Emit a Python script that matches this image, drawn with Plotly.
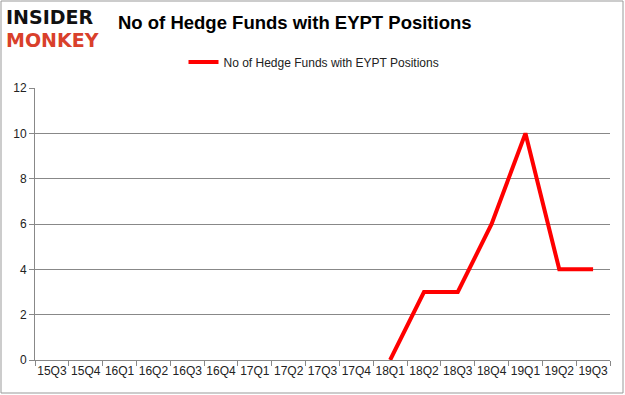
import plotly.graph_objects as go

quarters = ["15Q3", "15Q4", "16Q1", "16Q2", "16Q3", "16Q4", "17Q1", "17Q2", "17Q3",
            "17Q4", "18Q1", "18Q2", "18Q3", "18Q4", "19Q1", "19Q2", "19Q3"]
funds = [None, None, None, None, None, None, None, None, None,
         None, 0, 3, 3, 6, 10, 4, 4]
series_name = "No of Hedge Funds with EYPT Positions"
y_ticks = [0, 2, 4, 6, 8, 10, 12]

W, H = 625, 395
L, R, T, B = 35, 15, 88, 35
pw, ph = W - L - R, H - T - B

def px(x):
    return (x - L) / pw

def py(y):
    return (H - B - y) / ph

xs = list(range(len(quarters)))
fig = go.Figure()
fig.add_trace(go.Scatter(x=xs, y=funds, mode="lines", name=series_name,
                         line=dict(color="#ff0000", width=4), connectgaps=False))

font = "Liberation Sans"
fig.update_layout(
    width=W, height=H,
    margin=dict(l=L, r=R, t=T, b=B),
    paper_bgcolor="white", plot_bgcolor="white",
    showlegend=True,
    legend=dict(orientation="h", x=px(314), xanchor="center", y=py(62), yanchor="middle",
                font=dict(family=font, size=12, color="#222"), itemwidth=30,
                bgcolor="rgba(0,0,0,0)"),
    xaxis=dict(range=[-0.5, len(quarters) - 0.5], tickvals=xs, ticktext=quarters,
               showgrid=False, zeroline=False, showline=True, linecolor="#888", linewidth=1,
               ticks="", tickfont=dict(family=font, size=12, color="#222"),
               minor=dict(ticks="outside", tick0=-0.5, dtick=1, ticklen=5, tickcolor="#888",
                          showgrid=False)),
    yaxis=dict(range=[0, 12], tickvals=y_ticks, showgrid=True, gridcolor="#888", gridwidth=1,
               zeroline=False, showline=True, linecolor="#888", linewidth=1,
               ticks="outside", ticklen=5, tickcolor="#888",
               tickfont=dict(family=font, size=12, color="#222")),
)

fig.add_annotation(text="<b>No of Hedge Funds with EYPT Positions</b>", xref="paper", yref="paper",
                   x=px(116), y=py(22), xanchor="left", yanchor="middle", showarrow=False,
                   font=dict(family=font, size=18.5, color="#000"))
fig.add_annotation(text="<b>INSIDER</b>", xref="paper", yref="paper",
                   x=px(4), y=py(17), xanchor="left", yanchor="middle", showarrow=False,
                   font=dict(family="DejaVu Sans", size=19, color="#111"))
fig.add_annotation(text="<b>MONKEY</b>", xref="paper", yref="paper",
                   x=px(4), y=py(40), xanchor="left", yanchor="middle", showarrow=False,
                   font=dict(family="DejaVu Sans", size=19, color="#d9402b"))
fig.add_shape(type="rect", xref="paper", yref="paper",
              x0=px(1), x1=px(W - 2), y0=py(H - 2), y1=py(1),
              line=dict(color="#999", width=1), fillcolor="rgba(0,0,0,0)", layer="below")

fig.write_html("out.html", config={"displayModeBar": False},
               post_script="document.body.style.margin='0';")
